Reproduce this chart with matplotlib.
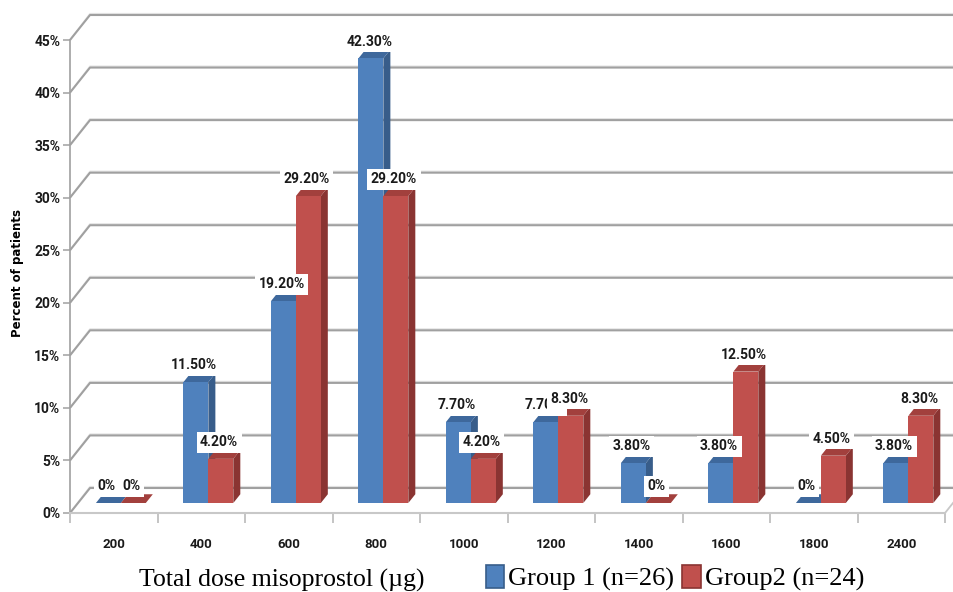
import matplotlib
matplotlib.use('Agg')
import matplotlib.pyplot as plt
from matplotlib.patches import Rectangle, Polygon, Patch
from matplotlib.ticker import FuncFormatter, FixedLocator

# ---- data ----
doses = ['200', '400', '600', '800', '1000', '1200', '1400', '1600', '1800', '2400']
group1 = [0, 11.5, 19.2, 42.3, 7.7, 7.7, 3.8, 3.8, 0, 3.8]
group2 = [0, 4.2, 29.2, 29.2, 4.2, 8.3, 0, 12.5, 4.5, 8.3]
series_names = ['Group 1 (n=26)', 'Group2 (n=24)']
y_ticks = [0, 5, 10, 15, 20, 25, 30, 35, 40, 45]
x_title = 'Total dose misoprostol (\u00b5g)'
y_title = 'Percent of patients'

# ---- style ----
W, H, DPI = 954, 592, 100
small = ['Roboto', 'DejaVu Sans']
serif = ['Liberation Serif', 'DejaVu Serif']
grid_c = '#a0a0a0'
faces = [
    dict(front='#4f81bd', side='#385d8a', top='#3e689c'),
    dict(front='#c0504d', side='#8a3432', top='#a2403d'),
]

fig = plt.figure(figsize=(W / DPI, H / DPI), dpi=DPI)
ax = fig.add_axes([70 / W, 79 / H, 875 / W, 473 / H])
n = len(doses)
ax.set_xlim(-0.5, n - 0.5)
ax.set_ylim(0, 45)

# depth vector of the 3-D box (data units)
DX = 20 / (875 / n)
DY = 25 / (473 / 45)
f0, ft = 0.4, 0.35  # bar front depth and bar thickness (fractions)

for s in ['top', 'right']:
    ax.spines[s].set_visible(False)
ax.spines['left'].set_color(grid_c)
ax.spines['left'].set_linewidth(1.2)
ax.spines['bottom'].set_color('#c8c8c8')
ax.spines['bottom'].set_linewidth(1.5)

ax.yaxis.set_major_locator(FixedLocator(y_ticks))
ax.yaxis.set_major_formatter(FuncFormatter(lambda v, p: f'{v:.0f}%'))
ax.tick_params(axis='y', length=5, width=1.1, color=grid_c, pad=2,
               labelsize=10, labelcolor='#1a1a1a')
for t in ax.get_yticklabels():
    t.set_family(small); t.set_weight('bold')

ax.set_xticks(range(n))
ax.set_xticklabels(doses)
ax.set_xticks([i - 0.5 for i in range(n + 1)], minor=True)
ax.tick_params(axis='x', which='major', length=0, pad=18,
               labelsize=9.5, labelcolor='#1a1a1a')
ax.tick_params(axis='x', which='minor', length=7, width=1.1, color='#b4b4b4')
for t in ax.get_xticklabels():
    t.set_family(small); t.set_weight('bold')

# back wall gridlines + side diagonals
x_l, x_r = -0.5, n - 0.5
for v in y_ticks:
    ax.plot([x_l, x_l + DX, x_r + DX + 1], [v, v + DY + 0.12, v + DY + 0.12], color='#e4e4e4',
            lw=1.2, clip_on=False, zorder=1, solid_capstyle='butt')
    ax.plot([x_l, x_l + DX, x_r + DX + 1], [v, v + DY, v + DY], color=grid_c,
            lw=1.5, clip_on=False, zorder=1.1, solid_capstyle='butt')
ax.plot([x_r, x_r + DX], [0, DY], color='#c8c8c8', lw=1.3, clip_on=False, zorder=1.2)

# bars
bw = 0.285
for i in range(n):
    for s, vals in enumerate([group1, group2]):
        v = vals[i]
        c = faces[s]
        x0 = i - 0.01 - bw + s * bw + f0 * DX
        y0 = f0 * DY
        ddx, ddy = ft * DX, ft * DY
        z = 3 + i * 0.1 + s * 0.01
        side = Polygon([(x0 + bw, y0), (x0 + bw, y0 + v), (x0 + bw + ddx, y0 + v + ddy),
                        (x0 + bw + ddx, y0 + ddy)], closed=True, facecolor=c['side'],
                       edgecolor='none', zorder=z)
        top = Polygon([(x0, y0 + v), (x0 + bw, y0 + v), (x0 + bw + ddx, y0 + v + ddy),
                       (x0 + ddx, y0 + v + ddy)], closed=True, facecolor=c['top'],
                      edgecolor='none', zorder=z)
        front = Rectangle((x0, y0), bw, v, facecolor=c['front'], edgecolor='none', zorder=z)
        for p in (side, top, front):
            ax.add_patch(p)
        lab = f'{v:.2f}%' if v else '0%'
        ax.text(x0 + bw / 2 - 0.02, y0 + v + 1.6, lab, ha='center', va='center',
                fontsize=10, fontweight='bold', family=small, color='#1a1a1a',
                zorder=10 + i * 0.1 + s * 0.01,
                bbox=dict(facecolor='white', edgecolor='none', pad=2.5))

# axis titles
fig.text(18 / W, 1 - 273 / H, y_title, rotation=90, ha='center', va='center',
         fontsize=8.5, fontweight='bold', family=['DejaVu Sans'])
fig.text(282 / W, 1 - 587 / H, x_title, ha='center', va='baseline',
         fontsize=18.5, family=serif)

handles = [Patch(facecolor=faces[0]['front'], edgecolor=faces[0]['side'], lw=1.2),
           Patch(facecolor=faces[1]['front'], edgecolor=faces[1]['side'], lw=1.2)]
fig.legend(handles, series_names, loc='center', bbox_to_anchor=(675 / W, 1 - 578 / H),
           ncol=2, frameon=False, prop=dict(family=serif, size=19),
           handlelength=0.7, handleheight=0.95, handletextpad=0.15,
           columnspacing=0.3, borderpad=0, borderaxespad=0)

fig.savefig('out.png', dpi=DPI)
